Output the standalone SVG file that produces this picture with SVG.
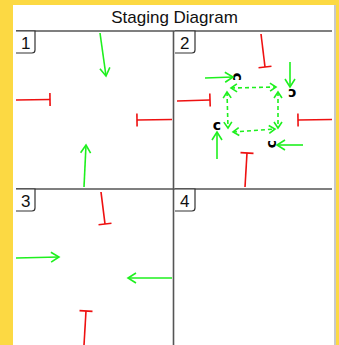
<svg xmlns="http://www.w3.org/2000/svg" width="339" height="345" viewBox="0 0 339 345">
  <defs>
    <marker id="vee" markerUnits="userSpaceOnUse" markerWidth="20" markerHeight="20" viewBox="-10 -10 20 20" refX="0" refY="0" orient="auto-start-reverse">
      <path d="M-8,-5 L0,0 L-8,5" fill="none" stroke="#1ef01e" stroke-width="1.6"/>
    </marker>
    <marker id="veeSmall" markerUnits="userSpaceOnUse" markerWidth="16" markerHeight="16" viewBox="-8 -8 16 16" refX="0" refY="0" orient="auto-start-reverse">
      <path d="M-6,-4 L0,0 L-6,4" fill="none" stroke="#1ef01e" stroke-width="1.6"/>
    </marker>
    <marker id="bar" markerUnits="userSpaceOnUse" markerWidth="20" markerHeight="20" viewBox="-10 -10 20 20" refX="0" refY="0" orient="auto">
      <path d="M0,-6.5 L0,6.5" fill="none" stroke="#ee1111" stroke-width="1.6"/>
    </marker>
  </defs>
  <style>
    .title { font-family: "Liberation Sans", Arial, sans-serif; font-size: 17px; fill: #111; }
    .num { font-family: "Liberation Sans", Arial, sans-serif; font-size: 17px; fill: #111; }
    .tab { fill: #fff; stroke: #333; stroke-width: 1.2; }
    .grid { stroke: #555; stroke-width: 1.6; fill: none; }
    .act { stroke: #1ef01e; stroke-width: 1.6; fill: none; marker-end: url(#vee); }
    .inh { stroke: #ee1111; stroke-width: 1.6; fill: none; marker-end: url(#bar); }
    .link { stroke: #1ef01e; stroke-width: 1.6; fill: none; stroke-dasharray: 4 3; marker-start: url(#veeSmall); marker-end: url(#veeSmall); }
    .c { font-family: "DejaVu Sans", sans-serif; font-size: 14px; font-weight: bold; fill: #000; text-anchor: middle; dominant-baseline: central; }
  </style>

  <!-- page -->
  <rect x="0" y="0" width="339" height="345" fill="#fcd943"/>
  <rect x="13" y="5" width="321" height="345" fill="#fff"/>
  <rect x="334" y="5" width="2" height="345" fill="#c8c8c8"/>
  <text class="title" x="174.5" y="23" text-anchor="middle">Staging Diagram</text>

  <!-- grid -->
  <g id="grid">
    <line class="grid" x1="16" y1="31" x2="332" y2="31"/>
    <line class="grid" x1="16" y1="189" x2="332" y2="189" stroke="#333"/>
    <line class="grid" x1="173.5" y1="31" x2="173.5" y2="345"/>
  </g>

  <!-- panel tabs -->
  <g id="panel-1">
    <path class="tab" d="M16,31 H35 V50 Q35,53 32,53 H16"/>
    <text class="num" x="21" y="49">1</text>
  </g>
  <g id="panel-2">
    <path class="tab" d="M175,31 H195 V50 Q195,53 192,53 H175"/>
    <text class="num" x="180" y="49">2</text>
  </g>
  <g id="panel-3">
    <path class="tab" d="M16,189 H35 V208 Q35,211 32,211 H16"/>
    <text class="num" x="21" y="207">3</text>
  </g>
  <g id="panel-4">
    <path class="tab" d="M175,189 H195 V208 Q195,211 192,211 H175"/>
    <text class="num" x="180" y="207">4</text>
  </g>

  <!-- labels in panel 2 -->
  <g id="c-top-left"><text class="c" transform="translate(238,77) rotate(90)">c</text></g>
  <g id="c-top-right"><text class="c" transform="translate(292,94) rotate(180)">c</text></g>
  <g id="c-bottom-left"><text class="c" transform="translate(217,125)">c</text></g>
  <g id="c-bottom-right"><text class="c" transform="translate(271,144) rotate(-90)">c</text></g>

  <g id="connectors">
    <!-- panel 1 -->
    <line class="act" x1="100" y1="33" x2="106" y2="76"/>
    <line class="inh" x1="16" y1="100" x2="50" y2="99.5"/>
    <line class="inh" x1="172" y1="119.5" x2="137" y2="120"/>
    <line class="act" x1="84" y1="187" x2="86" y2="145"/>

    <!-- panel 2 -->
    <line class="inh" x1="261" y1="34" x2="265" y2="67"/>
    <line class="act" x1="205" y1="78" x2="233" y2="77"/>
    <line class="act" x1="290" y1="62" x2="290" y2="87"/>
    <line class="inh" x1="177" y1="101" x2="210" y2="100"/>
    <line class="inh" x1="332" y1="119.5" x2="298" y2="120"/>
    <line class="act" x1="217" y1="159" x2="217" y2="132"/>
    <line class="act" x1="303" y1="145" x2="277" y2="145"/>
    <line class="inh" x1="245" y1="187" x2="247" y2="153"/>

    <line class="link" x1="231" y1="88" x2="276" y2="87"/>
    <line class="link" x1="278" y1="92" x2="278" y2="128"/>
    <line class="link" x1="233" y1="132" x2="275" y2="129"/>
    <line class="link" x1="227" y1="92" x2="228" y2="128"/>

    <!-- panel 3 -->
    <line class="inh" x1="101" y1="192" x2="105" y2="224"/>
    <line class="act" x1="16" y1="258" x2="59" y2="257"/>
    <line class="act" x1="172" y1="278" x2="128" y2="278"/>
    <line class="inh" x1="84" y1="345" x2="86" y2="311"/>
  </g>
</svg>
